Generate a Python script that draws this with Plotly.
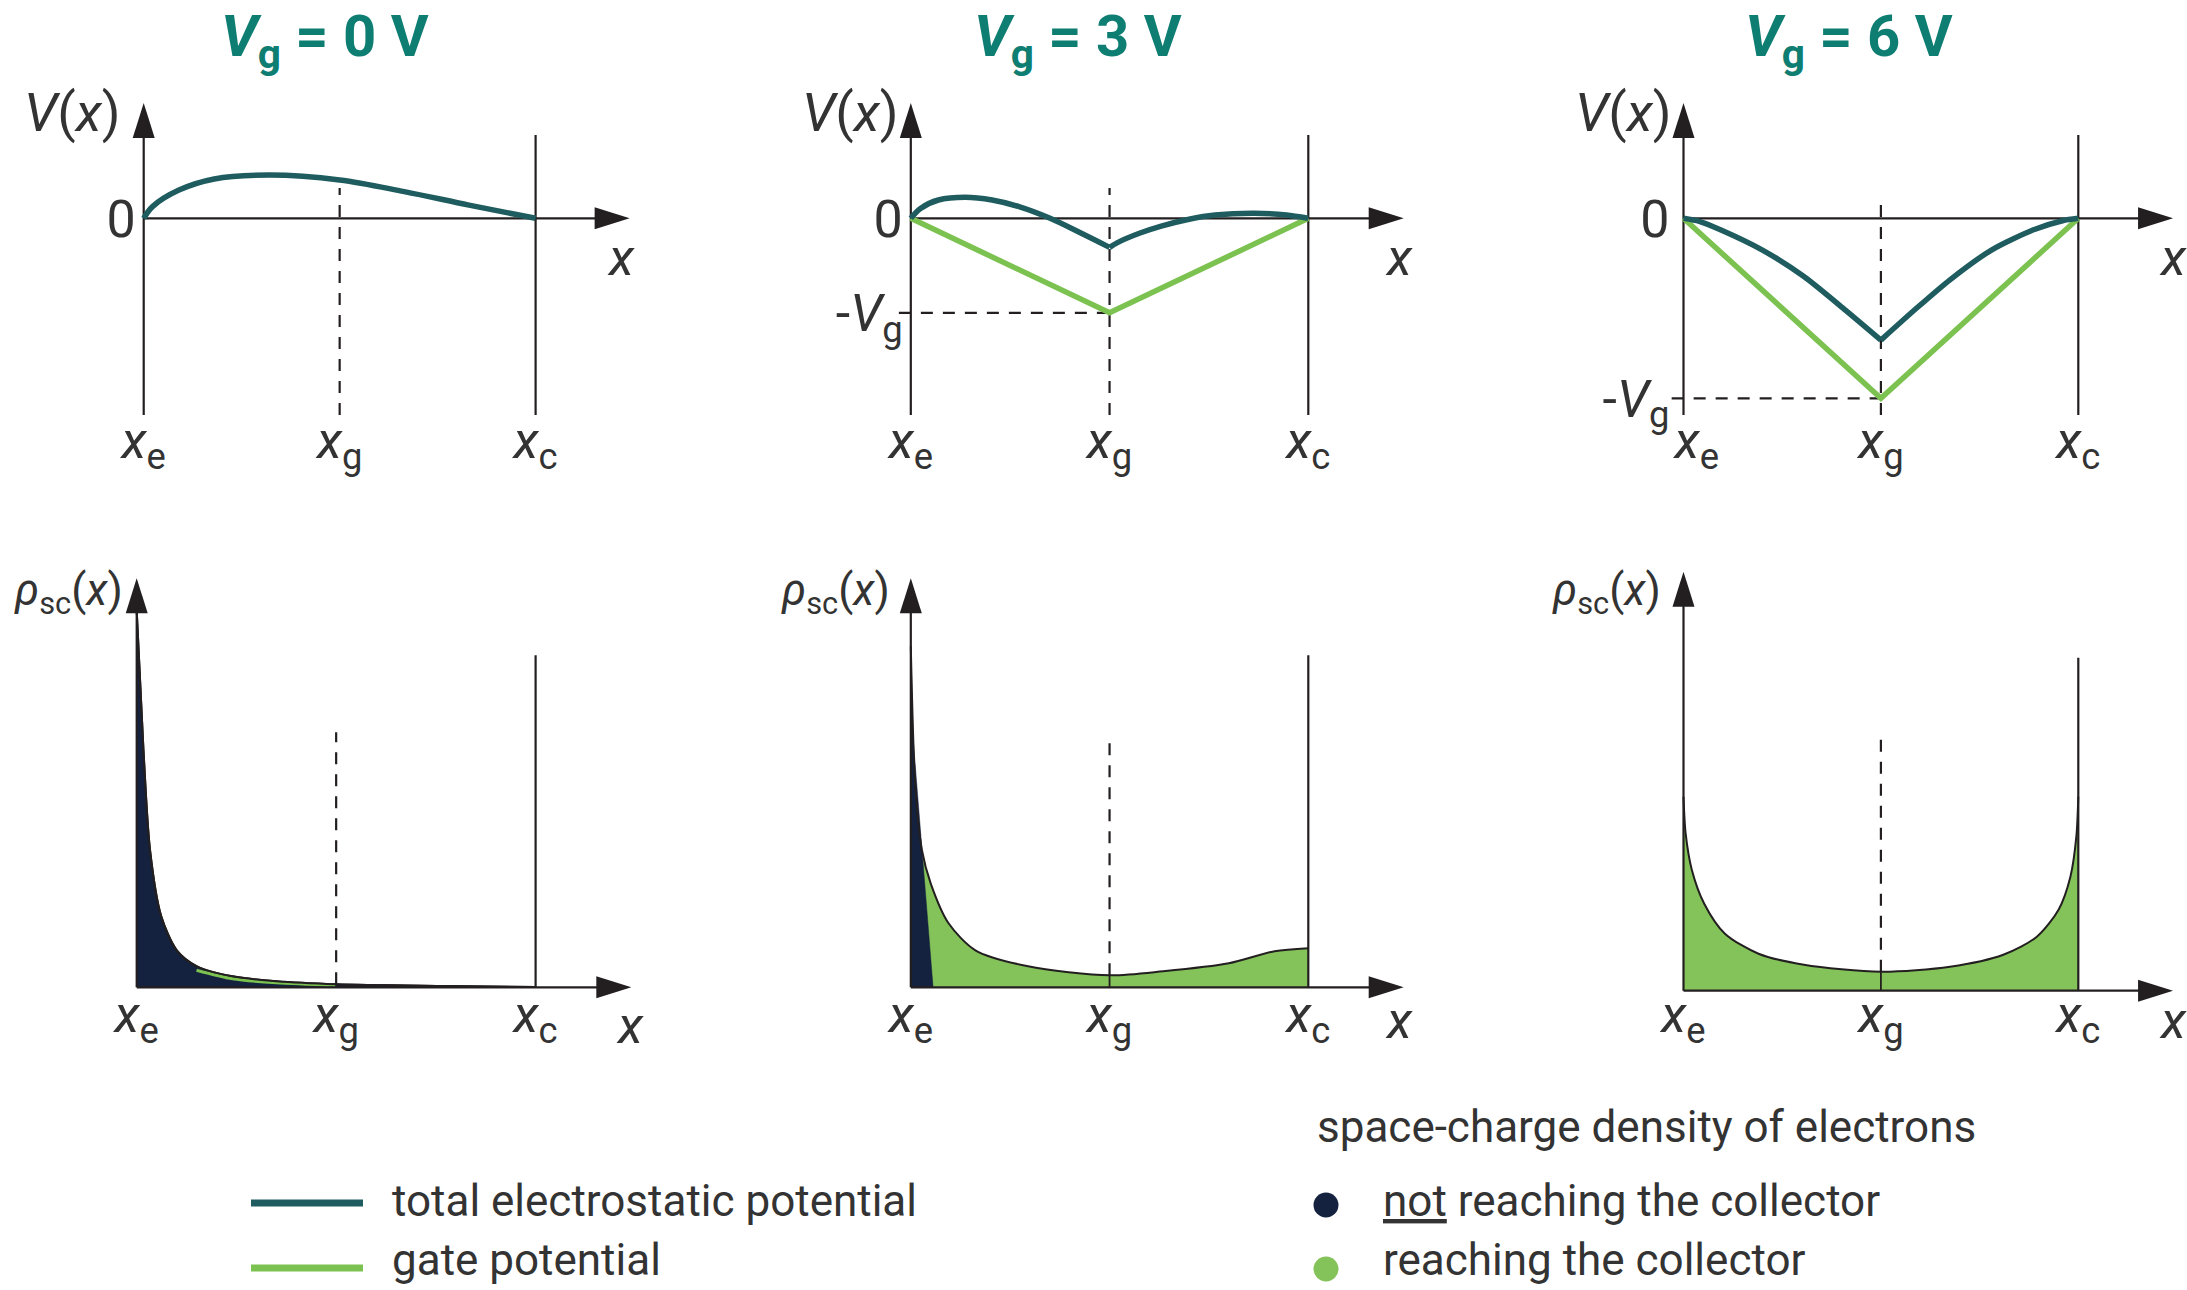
import plotly.graph_objects as go

W, H = 2187, 1290

# ---------------- data ----------------
gate_voltage_labels = ["0", "3", "6"]          # V_g of each column [V]
x_tick_vals = [0, 1, 2]                        # x_e, x_g, x_c
x_tick_text = ["<i>x</i><sub>e</sub>", "<i>x</i><sub>g</sub>", "<i>x</i><sub>c</sub>"]

# total electrostatic potential V(x) [V]
vtot0_x = [0, 0.045, 0.18, 0.36, 0.64, 1.0, 1.33, 1.66, 2.0]
vtot0_v = [0, 0.39, 0.94, 1.31, 1.44, 1.28, 0.89, 0.44, 0]

vtot3_left_x = [0, 0.049, 0.139, 0.274, 0.409, 0.544, 0.701, 0.858, 1.0]
vtot3_left_v = [0, 0.33, 0.61, 0.70, 0.61, 0.39, 0.0, -0.50, -0.97]
vtot3_right_x = [1.0, 1.04, 1.15, 1.26, 1.40, 1.53, 1.73, 1.89, 2.0]
vtot3_right_v = [-0.97, -0.81, -0.50, -0.26, -0.03, 0.11, 0.17, 0.11, 0]

vtot6_left_x = [0, 0.08, 0.19, 0.40, 0.61, 0.82, 1.0]
vtot6_left_v = [0, -0.10, -0.39, -1.06, -1.94, -3.06, -4.06]
vtot6_right_x = [1.0, 1.18, 1.35, 1.56, 1.77, 1.92, 2.0]
vtot6_right_v = [-4.06, -3.0, -2.05, -1.06, -0.39, -0.08, 0]

# gate potential [V]
gate_x = [0, 1, 2]
gate3_v = [0, -3.15, 0]
gate6_v = [0, -6.0, 0]

# space-charge density rho_sc(x) [arb. units]
rho0_x = [0, 0.034, 0.067, 0.123, 0.201, 0.302, 0.48, 0.70, 1.0, 1.55, 2.0]
rho0_y = [3.77, 2.37, 1.37, 0.71, 0.37, 0.21, 0.11, 0.06, 0.03, 0.013, 0.003]
reach0_x = [0.30, 0.48, 0.70, 1.0]
reach0_y = [0.17, 0.085, 0.045, 0.02]

rho3_x = [0, 0.022, 0.056, 0.10, 0.19, 0.325, 0.59, 1.0, 1.27, 1.60, 1.83, 2.0]
rho3_y = [3.41, 2.04, 1.37, 1.04, 0.64, 0.37, 0.21, 0.12, 0.16, 0.24, 0.36, 0.39]
notreach3_x = [0, 0.011, 0.112]
notreach3_y = [3.41, 2.5, 0]

rho6_x = [0, 0.011, 0.042, 0.105, 0.21, 0.38, 0.61, 1.0, 1.35, 1.62, 1.79, 1.90, 1.96, 1.99, 2.0]
rho6_y = [1.94, 1.57, 1.21, 0.87, 0.57, 0.37, 0.26, 0.19, 0.24, 0.36, 0.54, 0.81, 1.14, 1.54, 1.94]

# ---------------- style ----------------
FONT = "Roboto, 'Open Sans', sans-serif"
TITLE_FONT = "Roboto, 'Open Sans', sans-serif"
TEXT_COL = "#333333"
AXIS_COL = "#231F20"
TEAL_TITLE = "#0E7D72"
TEAL_LINE = "#1F5C5F"
GREEN_LINE = "#7CC250"
GREEN_FILL = "#84C25A"
NAVY = "#14213F"
AXIS_W = 2.2
CURVE_W = 5.5
AL, AWD = 35, 22           # arrowhead length / width [px]
LABEL_SIZE = 52
LEGEND_SIZE = 44

# pixel geometry of the six panels (origin = (x_e, 0))
panels = [
    dict(ox=143.7, sx=195.95, oy=218.3, sy=30.0),
    dict(ox=910.8, sx=198.75, oy=218.3, sy=30.0),
    dict(ox=1683.5, sx=197.4, oy=218.3, sy=30.0),
    dict(ox=136.7, sx=199.45, oy=987.3, sy=100.0),
    dict(ox=910.8, sx=198.75, oy=987.3, sy=100.0),
    dict(ox=1683.5, sx=197.4, oy=990.7, sy=100.0),
]
XR = [-0.3, 2.545]
YR_TOP = [-7.0, 4.2]
YR_BOT = [-0.2, 4.4]
X_TIP = 2.48
TOP_V_TIP, TOP_V_BOTTOM = 3.84, -6.56
TOP_XC_TOP = 2.78
TOP_XG_TOP = [1.01, 1.01, 0.78]
BOT_V_TIP = [4.09, 4.09, 4.19]
BOT_XC_TOP = [3.32, 3.32, 3.33]
BOT_XG_TOP = [2.55, 2.52, 2.54]
TOP_TICK_PX = 405
BOT_TICK_PX = 979
YTICK_GAP = [8, 8, 14]


def ax_names(i):
    s = "" if i == 1 else str(i)
    return "x" + s, "y" + s, "xaxis" + s, "yaxis" + s


def clamp(v):
    return max(0.0, min(1.0, v))


fig = go.Figure()
layout_axes = {}
for i, p in enumerate(panels, start=1):
    xr, yr, xk, yk = ax_names(i)
    yrange = YR_TOP if i <= 3 else YR_BOT
    xdom = [clamp((p["ox"] + XR[0] * p["sx"]) / W), clamp((p["ox"] + XR[1] * p["sx"]) / W)]
    ydom = [clamp(1 - (p["oy"] - yrange[0] * p["sy"]) / H), clamp(1 - (p["oy"] - yrange[1] * p["sy"]) / H)]
    tick_px = TOP_TICK_PX if i <= 3 else BOT_TICK_PX
    ttext = list(x_tick_text)
    if i == 3:
        # leave room for the -V_g label sitting just above x_e
        ttext[0] = "\u2002" + ttext[0]
    layout_axes[xk] = dict(
        domain=xdom, range=XR, anchor="free", position=clamp(1 - tick_px / H),
        showgrid=False, zeroline=False, showline=False, ticks="",
        tickmode="array", tickvals=x_tick_vals, ticktext=ttext,
        tickfont=dict(size=LABEL_SIZE, color=TEXT_COL, family=FONT), fixedrange=True,
    )
    gap = YTICK_GAP[i - 1] if i <= 3 else 8
    ycfg = dict(
        domain=ydom, range=yrange, anchor="free", position=clamp((p["ox"] - gap) / W),
        showgrid=False, zeroline=False, showline=False, ticks="", fixedrange=True,
        tickfont=dict(size=LABEL_SIZE, color=TEXT_COL, family=FONT),
    )
    if i == 1:
        ycfg.update(tickmode="array", tickvals=[0], ticktext=["0"])
    elif i == 2:
        ycfg.update(tickmode="array", tickvals=[0, min(gate3_v)], ticktext=["0", "-<i>V</i><sub>g</sub>"])
    elif i == 3:
        ycfg.update(tickmode="array", tickvals=[0, min(gate6_v)], ticktext=["0", "-<i>V</i><sub>g</sub>"])
    else:
        ycfg.update(showticklabels=False)
    layout_axes[yk] = ycfg


def line_trace(i, x, y, color, width, fill=None, fillcolor=None, smooth=1.0, shape="spline"):
    xr, yr, _, _ = ax_names(i)
    kw = dict(x=x, y=y, xaxis=xr, yaxis=yr, mode="lines", hoverinfo="skip", showlegend=False,
              line=dict(color=color, width=width, shape=shape))
    if shape == "spline":
        kw["line"]["smoothing"] = smooth
    if fill:
        kw["fill"] = fill
        kw["fillcolor"] = fillcolor
    return go.Scatter(**kw)


# ---- top row: potentials ----
fig.add_trace(line_trace(1, vtot0_x, vtot0_v, TEAL_LINE, CURVE_W))

fig.add_trace(line_trace(2, gate_x, gate3_v, GREEN_LINE, CURVE_W, shape="linear"))
fig.add_trace(line_trace(2, vtot3_left_x, vtot3_left_v, TEAL_LINE, CURVE_W))
fig.add_trace(line_trace(2, vtot3_right_x, vtot3_right_v, TEAL_LINE, CURVE_W, smooth=0.8))

fig.add_trace(line_trace(3, gate_x, gate6_v, GREEN_LINE, CURVE_W, shape="linear"))
fig.add_trace(line_trace(3, vtot6_left_x, vtot6_left_v, TEAL_LINE, CURVE_W, smooth=0.7))
fig.add_trace(line_trace(3, vtot6_right_x, vtot6_right_v, TEAL_LINE, CURVE_W, smooth=0.7))

# ---- bottom row: space-charge densities ----
fig.add_trace(line_trace(4, rho0_x, rho0_y, AXIS_COL, 2, fill="tozeroy", fillcolor=NAVY, smooth=0.8))
fig.add_trace(line_trace(4, reach0_x, reach0_y, GREEN_LINE, 3, smooth=0.8))
fig.add_trace(line_trace(4, rho0_x, rho0_y, AXIS_COL, 2, smooth=0.8))

fig.add_trace(line_trace(5, rho3_x, rho3_y, GREEN_FILL, 0.1, fill="tozeroy", fillcolor=GREEN_FILL, smooth=0.8))
fig.add_trace(line_trace(5, notreach3_x, notreach3_y, NAVY, 0.5, fill="tozeroy", fillcolor=NAVY, shape="linear"))
fig.add_trace(line_trace(5, rho3_x, rho3_y, AXIS_COL, 2, smooth=0.8))

fig.add_trace(line_trace(6, rho6_x, rho6_y, AXIS_COL, 2, fill="tozeroy", fillcolor=GREEN_FILL, smooth=0.8))

# ---------------- axes drawn as arrows ----------------
shapes = []


def seg(i, x0, y0, x1, y1, dash=None, width=AXIS_W, layer="above", color=AXIS_COL):
    xr, yr, _, _ = ax_names(i)
    ln = dict(color=color, width=width)
    if dash:
        ln["dash"] = dash
    shapes.append(dict(type="line", xref=xr, yref=yr, x0=x0, y0=y0, x1=x1, y1=y1, line=ln, layer=layer))


def arrow(i, xa, ya, direction):
    xr, yr, _, _ = ax_names(i)
    if direction == "right":
        path = f"M0,0 L-{AL},{AWD/2} L-{AL},-{AWD/2} Z"
    else:
        path = f"M0,0 L-{AWD/2},-{AL} L{AWD/2},-{AL} Z"
    shapes.append(dict(type="path", xref=xr, yref=yr, xsizemode="pixel", ysizemode="pixel",
                       xanchor=xa, yanchor=ya, path=path, fillcolor=AXIS_COL,
                       line=dict(width=0), layer="above"))


DASH = "12px,10px"
for k in range(3):
    i = k + 1
    p = panels[k]
    lay = "below"
    seg(i, 0, TOP_V_BOTTOM, 0, TOP_V_TIP - 20 / p["sy"], layer=lay)
    seg(i, 0, 0, X_TIP - 20 / p["sx"], 0, layer=lay)
    arrow(i, 0, TOP_V_TIP, "up")
    arrow(i, X_TIP, 0, "right")
    seg(i, 2, TOP_V_BOTTOM, 2, TOP_XC_TOP, layer=lay)
    seg(i, 1, TOP_V_BOTTOM, 1, TOP_XG_TOP[k], dash=DASH, layer=lay)
for i, gv in ((2, gate3_v), (3, gate6_v)):
    seg(i, -0.06, min(gv), 1, min(gv), dash=DASH, layer="below")

bottom_rho = [(rho0_x, rho0_y), (rho3_x, rho3_y), (rho6_x, rho6_y)]
for k in range(3):
    i = k + 4
    p = panels[i - 1]
    seg(i, 0, 0, 0, BOT_V_TIP[k] - 20 / p["sy"])
    seg(i, 0, 0, X_TIP - 20 / p["sx"], 0)
    arrow(i, 0, BOT_V_TIP[k], "up")
    arrow(i, X_TIP, 0, "right")
    seg(i, 2, 0, 2, BOT_XC_TOP[k])
    rx, ry = bottom_rho[k]
    r_g = ry[rx.index(1.0)]
    seg(i, 1, r_g, 1, BOT_XG_TOP[k], dash=DASH)
    seg(i, 1, 0, 1, r_g, width=1.8)

# ---------------- texts ----------------
annotations = []


def pann(text, xpx, ypx, size, color=TEXT_COL, xanchor="center", yanchor="middle", family=FONT):
    annotations.append(dict(text=text, x=xpx / W, y=1 - ypx / H, xref="paper", yref="paper",
                            showarrow=False, xanchor=xanchor, yanchor=yanchor,
                            font=dict(size=size, color=color, family=family)))


title_x = [325, 1078, 1849]
for tx, vg in zip(title_x, gate_voltage_labels):
    pann(f"<b><i>V</i><sub>g</sub> = {vg} V</b>", tx, 40, 58, color=TEAL_TITLE, family=TITLE_FONT)

for xpx in (72, 850, 1623):
    pann("<i>V</i>(<i>x</i>)", xpx, 112, 54)
for xpx in (68, 835, 1606):
    pann("<i>ρ</i><sub>sc</sub>(<i>x</i>)", xpx, 593, 44)
for xpx, ypx in ((621, 258), (1399, 258), (2173, 258), (630, 1025), (1399, 1020), (2173, 1020)):
    pann("<i>x</i>", xpx, ypx, LABEL_SIZE)

# legend
ROW1, ROW2 = 1201, 1264
shapes.append(dict(type="line", xref="paper", yref="paper", x0=251 / W, x1=363 / W,
                   y0=1 - (ROW1 + 2) / H, y1=1 - (ROW1 + 2) / H, line=dict(color=TEAL_LINE, width=7)))
shapes.append(dict(type="line", xref="paper", yref="paper", x0=251 / W, x1=363 / W,
                   y0=1 - (ROW2 + 4) / H, y1=1 - (ROW2 + 4) / H, line=dict(color=GREEN_LINE, width=7)))
for cy, col in ((ROW1 + 4, NAVY), (ROW2 + 5, GREEN_FILL)):
    shapes.append(dict(type="circle", xref="paper", yref="paper",
                       x0=(1326 - 12.5) / W, x1=(1326 + 12.5) / W,
                       y0=1 - (cy + 12.5) / H, y1=1 - (cy - 12.5) / H,
                       fillcolor=col, line=dict(width=0)))
pann("total electrostatic potential", 390, ROW1, LEGEND_SIZE, xanchor="left")
pann("gate potential", 390, ROW2 - 4, LEGEND_SIZE, xanchor="left")
pann("space-charge density of electrons", 1315, 1127, LEGEND_SIZE, xanchor="left")
pann("<span style='text-decoration:underline'>not</span> reaching the collector", 1381, ROW1,
     LEGEND_SIZE, xanchor="left")
pann("reaching the collector", 1381, ROW2 - 4, LEGEND_SIZE, xanchor="left")

fig.update_layout(
    width=W, height=H, margin=dict(l=0, r=0, t=0, b=0),
    template="none", paper_bgcolor="white", plot_bgcolor="rgba(0,0,0,0)",
    showlegend=False, shapes=shapes, annotations=annotations,
    font=dict(family=FONT, color=TEXT_COL),
    **layout_axes,
)

fig.write_html("out.html", config={"displayModeBar": False},
               post_script="document.body.style.margin='0';")
